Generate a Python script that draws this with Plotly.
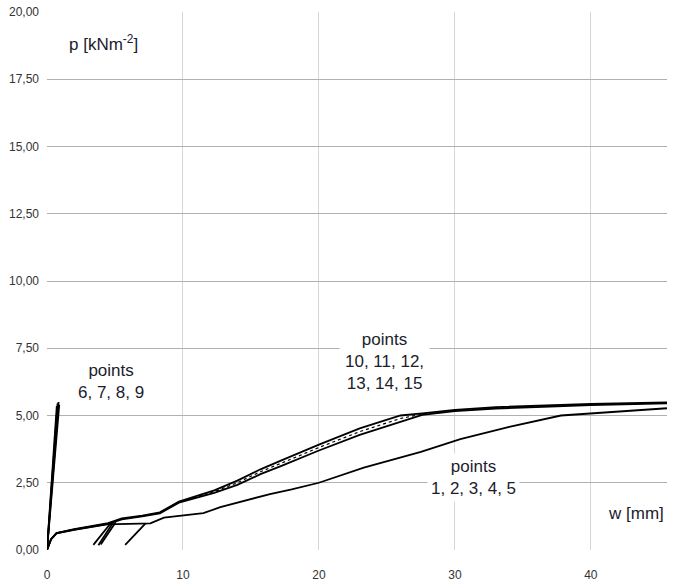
import plotly.graph_objects as go

# ---- data ----
# curves for points 10-15 (upper bundle): two outer lines and the dotted middle
w_upper = [0, 0.3, 0.7, 2.0, 4.5, 5.5, 7.0, 8.3, 9.7, 12.3, 14.0, 15.7, 17.2, 20.0, 23.0, 26.0, 27.6, 30.0, 33.0, 37.0, 40.0, 45.6]
p_upper_a = [0, 0.40, 0.63, 0.78, 1.00, 1.18, 1.28, 1.40, 1.80, 2.22, 2.58, 3.00, 3.32, 3.92, 4.52, 5.00, 5.08, 5.21, 5.31, 5.38, 5.43, 5.49]
p_upper_b = [0, 0.40, 0.63, 0.76, 0.97, 1.14, 1.25, 1.36, 1.76, 2.12, 2.42, 2.82, 3.12, 3.70, 4.28, 4.78, 5.02, 5.16, 5.26, 5.33, 5.39, 5.45]
p_upper_m = [0, 0.40, 0.63, 0.77, 0.98, 1.16, 1.26, 1.38, 1.78, 2.17, 2.50, 2.91, 3.22, 3.81, 4.40, 4.89, 5.05, 5.18, 5.28, 5.35, 5.41, 5.47]

# curve for points 1-5 (lower)
w_lower = [0, 0.3, 0.7, 2.0, 4.4, 7.6, 8.6, 9.7, 11.5, 12.75, 14.0, 16.4, 18.0, 20.0, 23.3, 27.5, 30.4, 34.0, 37.8, 40.0, 45.6]
p_lower = [0, 0.40, 0.62, 0.75, 0.95, 0.99, 1.20, 1.26, 1.37, 1.59, 1.76, 2.08, 2.25, 2.50, 3.06, 3.65, 4.12, 4.58, 5.00, 5.08, 5.27]

# curves for points 6-9 (steep)
w_steep = [[0, 0.72], [0, 0.78], [0, 0.85], [0, 0.90]]
p_steep = [[0, 5.35], [0, 5.45], [0, 5.50], [0, 5.40]]

# short reloading branches
w_branch = [[3.41, 4.77], [3.78, 4.90], [3.95, 5.05], [5.75, 7.25]]
p_branch = [[0.19, 1.05], [0.18, 1.05], [0.20, 1.03], [0.19, 0.99]]

y_ticks = [0, 2.5, 5, 7.5, 10, 12.5, 15, 17.5, 20]
x_ticks = [0, 10, 20, 30, 40]

fig = go.Figure()

line_black = dict(color="black", width=1.8)

fig.add_trace(go.Scatter(x=w_upper, y=p_upper_a, mode="lines", line=line_black))
fig.add_trace(go.Scatter(x=w_upper, y=p_upper_b, mode="lines", line=line_black))
fig.add_trace(go.Scatter(x=w_upper, y=p_upper_m, mode="lines", line=dict(color="black", width=1.2, dash="dot")))
fig.add_trace(go.Scatter(x=w_lower, y=p_lower, mode="lines", line=line_black))
for wx, py in zip(w_steep, p_steep):
    fig.add_trace(go.Scatter(x=wx, y=py, mode="lines", line=line_black))
for wx, py in zip(w_branch, p_branch):
    fig.add_trace(go.Scatter(x=wx, y=py, mode="lines", line=line_black))

txt_font = dict(family="Liberation Sans, Arial, sans-serif", size=17, color="#1c1c2c")

annotations = [
    dict(x=4.15, y=18.85, text="p [kNm<sup>-2</sup>]", showarrow=False, font=txt_font),
    dict(x=4.74, y=6.28, text="points<br>6, 7, 8, 9", showarrow=False, font=txt_font),
    dict(x=24.85, y=7.0, text="points<br>10, 11, 12,<br>13, 14, 15", showarrow=False, font=txt_font,
         bgcolor="white", borderpad=5),
    dict(x=31.4, y=2.68, text="points<br>1, 2, 3, 4, 5", showarrow=False, font=txt_font,
         bgcolor="white", borderpad=3),
    dict(x=43.3, y=1.34, text="w [mm]", showarrow=False, font=txt_font, bgcolor="white", borderpad=4),
]

tick_font = dict(family="Liberation Sans, Arial, sans-serif", size=12, color="#333333")

fig.update_layout(
    width=681, height=583,
    margin=dict(l=47, r=14, t=12, b=33),
    paper_bgcolor="white", plot_bgcolor="white",
    showlegend=False,
    separators=",.",
    annotations=annotations,
    shapes=[dict(type="line", xref="paper", yref="paper", x0=0, x1=1, y0=1, y1=1,
                 line=dict(color="white", width=2), layer="below")],
    xaxis=dict(range=[0, 45.6], tickvals=x_ticks, showgrid=True, gridcolor="#d6d6d6", gridwidth=1,
               zeroline=False, showline=False, ticks="", tickfont=tick_font, ticklabelstandoff=16,
               automargin=False),
    yaxis=dict(range=[0, 20], tickvals=y_ticks, tickformat=".2f", showgrid=True, gridcolor="#b0b0b0",
               gridwidth=1, zeroline=False, showline=False, ticks="", tickfont=tick_font, ticklabelstandoff=7,
               automargin=False),
)

fig.write_html("out.html", config={"displayModeBar": False},
               post_script="document.body.style.margin='0';document.body.style.overflow='hidden';")
